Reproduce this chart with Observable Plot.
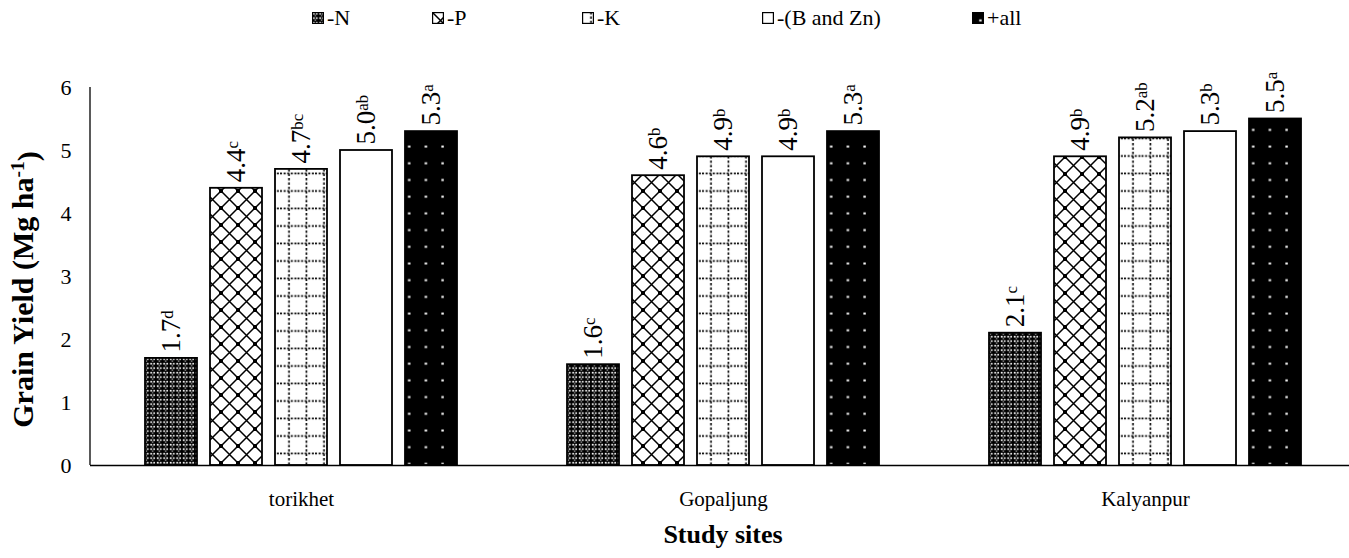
<!DOCTYPE html>
<html><head><meta charset="utf-8">
<script src="https://cdn.jsdelivr.net/npm/d3@7"></script>
<script src="https://cdn.jsdelivr.net/npm/@observablehq/plot@0.6"></script>
<style>
html,body{margin:0;padding:0;background:#fff;overflow:hidden}
#wrap{width:1356px;font-family:"Liberation Serif","Times New Roman",serif;color:#000}
#legend{position:relative;height:38px}
.item{position:absolute;top:4px;height:28px;display:flex;align-items:center;font-size:22px;white-space:nowrap}
.item svg{margin-right:3px}
#caption{margin-left:90px;width:1266px;text-align:center;font-weight:bold;font-size:26px;line-height:34px;margin-top:3px}
#chart svg text{font-family:"Liberation Serif","Times New Roman",serif !important}
</style></head><body>
<svg width="0" height="0" style="position:absolute">
  <defs>
    <pattern id="pN" patternUnits="userSpaceOnUse" width="6.5" height="4.5">
      <rect width="6.5" height="4.5" fill="#000"/>
      <rect x="0.8" y="0.8" width="1.8" height="1.7" fill="#fff"/>
      <rect x="3.9" y="0.8" width="1.6" height="1.7" fill="#fff"/>
      <rect x="2.6" y="3.2" width="1.3" height="0.9" fill="#fff"/>
    </pattern>
    <pattern id="pP" patternUnits="userSpaceOnUse" width="17" height="17">
      <rect width="17" height="17" fill="#fff"/>
      <path d="M0,0L17,17M17,0L0,17" stroke="#000" stroke-width="1.5"/>
      <rect x="-2" y="-2" width="4" height="4" fill="#000"/>
      <rect x="15" y="-2" width="4" height="4" fill="#000"/>
      <rect x="-2" y="15" width="4" height="4" fill="#000"/>
      <rect x="15" y="15" width="4" height="4" fill="#000"/>
    </pattern>
    <pattern id="pK" patternUnits="userSpaceOnUse" width="17.5" height="17.5">
      <rect width="17.5" height="17.5" fill="#fff"/>
      <path d="M9,0V17.5" stroke="#000" stroke-width="1.6" stroke-dasharray="2.4,2"/>
      <path d="M0,13H17.5" stroke="#000" stroke-width="1.6" stroke-dasharray="2,1.6"/>
    </pattern>
    <pattern id="pB" patternUnits="userSpaceOnUse" width="17" height="17">
      <rect width="17" height="17" fill="#fff"/>
    </pattern>
    <pattern id="pA" patternUnits="userSpaceOnUse" width="16.7" height="16.7">
      <rect width="16.7" height="16.7" fill="#000"/>
      <rect x="7.2" y="7.4" width="2.4" height="2" fill="#fff"/>
    </pattern>
  </defs>
</svg>
<div id="wrap"><div id="legend"></div><div id="chart"></div><div id="caption">Study sites</div></div>
<script>
const sites = ["torikhet", "Gopaljung", "Kalyanpur"];
const treatments = ["-N", "-P", "-K", "-(B and Zn)", "+all"];
const yieldTorikhet = [1.7, 4.4, 4.7, 5.0, 5.3];
const yieldGopaljung = [1.6, 4.6, 4.9, 4.9, 5.3];
const yieldKalyanpur = [2.1, 4.9, 5.2, 5.3, 5.5];
const lettersTorikhet = ["d", "c", "bc", "ab", "a"];
const lettersGopaljung = ["c", "b", "b", "b", "a"];
const lettersKalyanpur = ["c", "b", "ab", "b", "a"];
const yTicks = [0, 1, 2, 3, 4, 5, 6];
const patternFills = ["url(#pN)", "url(#pP)", "url(#pK)", "url(#pB)", "url(#pA)"];

const allYields = [yieldTorikhet, yieldGopaljung, yieldKalyanpur];
const allLetters = [lettersTorikhet, lettersGopaljung, lettersKalyanpur];
const data = [];
sites.forEach((s, i) => treatments.forEach((t, j) =>
  data.push({site: s, treatment: t, value: allYields[i][j], letter: allLetters[i][j]})));

// legend (HTML, above the SVG)
const legendLeft = [312, 432, 582, 762, 972];
const legend = d3.select("#legend");
treatments.forEach((t, j) => {
  const it = legend.append("div").attr("class", "item").style("left", legendLeft[j] + "px");
  const sw = it.append("svg").attr("width", 12).attr("height", 12);
  sw.append("rect").attr("x", 0.6).attr("y", 0.6).attr("width", 10.8).attr("height", 10.8)
    .attr("fill", patternFills[j]).attr("stroke", "#000").attr("stroke-width", 1.2);
  it.append("span").text(t);
});

const FONT = '"Liberation Serif", "Times New Roman", serif';
const W = 1356, H = 477, ML = 90;
const chart = Plot.plot({
  width: W, height: H,
  marginLeft: ML, marginRight: 0, marginTop: 49, marginBottom: 50,
  style: {fontFamily: FONT, fontSize: "22px", color: "#000", background: "transparent", overflow: "visible"},
  fx: {domain: sites, padding: 0, label: null},
  x: {domain: treatments, paddingInner: 0.2, paddingOuter: 0.846, axis: null},
  y: {domain: [0, 6]},
  color: {domain: treatments, range: patternFills},
  marks: [
    Plot.barY(data, {fx: "site", x: "treatment", y: "value", fill: "treatment", stroke: "#000", strokeWidth: 1.8}),
    Plot.ruleY([0], {stroke: "#000", strokeWidth: 1.3}),
    Plot.text(data, {fx: "site", x: "treatment", y: "value",
      text: d => d.value.toFixed(1) + "|" + d.letter,
      rotate: -90, textAnchor: "start", dy: -6, fontSize: 27, fontFamily: FONT, fill: "#000"}),
    Plot.axisY({ticks: yTicks, tickSize: 0, tickPadding: 19, tickFormat: d => String(d), fontSize: 22, fontFamily: FONT,
      label: "Grain Yield (Mg ha-1)", labelAnchor: "center", labelOffset: 79}),
    Plot.axisFx({anchor: "bottom", tickSize: 0, tickPadding: 26, fontSize: 21, fontFamily: FONT, label: null})
  ]
});
document.getElementById("chart").appendChild(chart);

const svg = d3.select(chart);
// y axis line drawn from the y scale
const ys = chart.scale("y");
svg.append("line").attr("x1", ML).attr("x2", ML).attr("y1", ys.apply(0)).attr("y2", ys.apply(6))
  .attr("stroke", "#000").attr("stroke-width", 1.3);

// superscript letters on value labels
svg.selectAll('g[aria-label="text"] text').each(function() {
  const [num, sup] = this.textContent.split("|");
  const t = d3.select(this);
  t.text(null);
  t.append("tspan").text(num);
  t.append("tspan").attr("dy", "-0.45em").attr("font-size", "0.62em").text(sup);
});

// y axis title: bold with superscript, centred on the y range
svg.selectAll('g[aria-label="y-axis label"] text').each(function() {
  const t = d3.select(this);
  t.text(null).attr("font-weight", "bold").attr("font-size", 30);
  t.append("tspan").text("Grain Yield (Mg ha");
  t.append("tspan").attr("dy", "-0.45em").attr("font-size", "0.65em").text("-1");
  t.append("tspan").attr("dy", "0.45em").text(")");
  const tr = this.getAttribute("transform") || "";
  this.setAttribute("transform", "translate(0,13) " + tr);
});
</script>
</body></html>
